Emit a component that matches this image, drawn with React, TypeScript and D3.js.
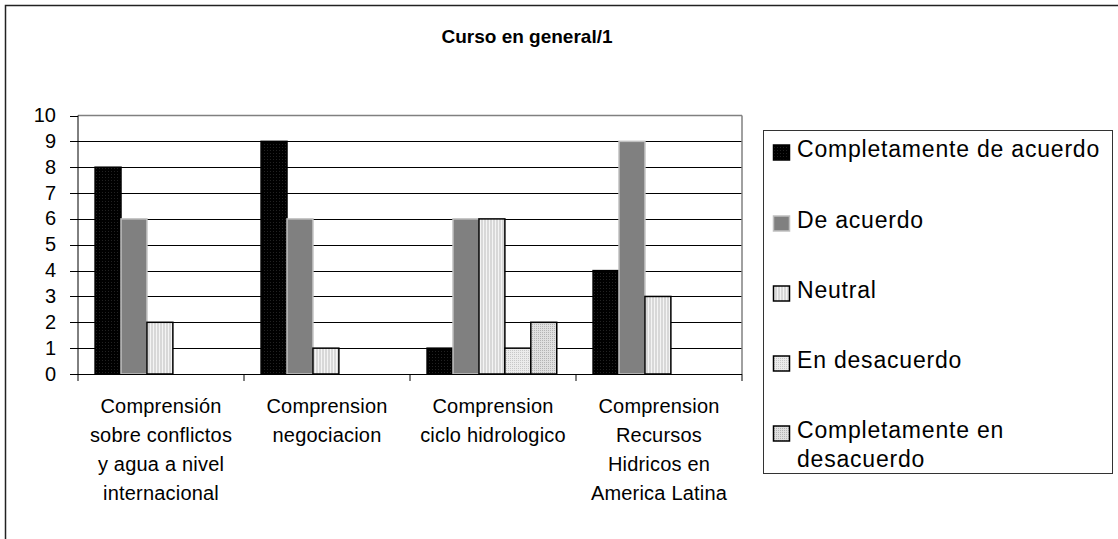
import React from "react";
import * as d3 from "d3";

const categories: string[][] = [
  ["Comprensión", "sobre conflictos", "y agua a nivel", "internacional"],
  ["Comprension", "negociacion"],
  ["Comprension", "ciclo hidrologico"],
  ["Comprension", "Recursos", "Hidricos en", "America Latina"],
];
const seriesNames: string[] = [
  "Completamente de acuerdo",
  "De acuerdo",
  "Neutral",
  "En desacuerdo",
  "Completamente en desacuerdo",
];
const completamenteDeAcuerdo = [8, 9, 1, 4];
const deAcuerdo = [6, 6, 6, 9];
const neutral = [2, 1, 6, 3];
const enDesacuerdo = [0, 0, 1, 0];
const completamenteEnDesacuerdo = [0, 0, 2, 0];
const yTicks = [0, 1, 2, 3, 4, 5, 6, 7, 8, 9, 10];
const title = "Curso en general/1";

const seriesValues = [completamenteDeAcuerdo, deAcuerdo, neutral, enDesacuerdo, completamenteEnDesacuerdo];
const fills = ["url(#pBlack)", "#808080", "url(#pStripe)", "url(#pDot1)", "url(#pDot2)"];
const strokes = ["#000", "#c0c0c0", "#000", "#000", "#000"];

const FONT = "Arial, 'Liberation Sans', sans-serif";

export default function App() {
  const left = 78, right = 742, top = 115.5, bottom = 374;
  const catKeys = categories.map((_, i) => String(i));
  const x0 = d3.scaleBand<string>().domain(catKeys).range([left, right]).padding(0);
  const x1 = d3
    .scaleBand<string>()
    .domain(seriesNames)
    .range([0, x0.bandwidth()])
    .paddingInner(0)
    .paddingOuter(0.7)
    .align(0.47);
  const y = d3.scaleLinear().domain([0, 10]).range([bottom, top]);

  const legendX = 763, legendY = 130, legendW = 349, legendH = 343;
  const legendBaselines = [157, 228, 298, 368, 438];

  return (
    <svg width={1118} height={539} style={{ position: "absolute", left: 0, top: 0, background: "#fff" }}>
      <defs>
        <pattern id="pBlack" width="3" height="3" patternUnits="userSpaceOnUse">
          <rect width="3" height="3" fill="#000" />
          <rect width="1" height="1" fill="#222" />
        </pattern>
        <pattern id="pStripe" width="3" height="3" patternUnits="userSpaceOnUse">
          <rect width="3" height="3" fill="#d8d8d8" />
          <rect width="1" height="3" fill="#f4f4f4" />
        </pattern>
        <pattern id="pDot1" width="2" height="2" patternUnits="userSpaceOnUse">
          <rect width="2" height="2" fill="#ececec" />
          <rect width="1" height="1" fill="#c8c8c8" />
        </pattern>
        <pattern id="pDot2" width="2" height="2" patternUnits="userSpaceOnUse">
          <rect width="2" height="2" fill="#e0e0e0" />
          <rect width="1" height="1" fill="#b4b4b4" />
        </pattern>
      </defs>
      <rect x={0} y={0} width={1118} height={539} fill="#fff" />
      <rect x={5.5} y={5.5} width={1200} height={600} fill="none" stroke="#222" strokeWidth={1.5} />

      <text x={527} y={43} textAnchor="middle" fontFamily={FONT} fontWeight="bold" fontSize={19}>
        {title}
      </text>

      {/* gridlines */}
      {yTicks.slice(1, -1).map((t) => (
        <line key={"g" + t} x1={left} x2={right} y1={Math.round(y(t)) + 0.5} y2={Math.round(y(t)) + 0.5} stroke="#000" strokeWidth={1} />
      ))}
      {/* plot border top & right */}
      <line x1={left} x2={right} y1={y(10)} y2={y(10)} stroke="#808080" strokeWidth={1.5} />
      <line x1={right} x2={right} y1={y(10)} y2={bottom} stroke="#808080" strokeWidth={1.5} />

      {/* bars */}
      {categories.map((_, ci) =>
        seriesNames.map((s, si) => {
          const v = seriesValues[si][ci];
          if (!v) return null;
          const bx = (x0(String(ci)) as number) + (x1(s) as number);
          return (
            <rect
              key={ci + "-" + si}
              x={bx}
              y={y(v)}
              width={x1.bandwidth()}
              height={y(0) - y(v)}
              fill={fills[si]}
              stroke={strokes[si]}
              strokeWidth={1.5}
            />
          );
        })
      )}

      {/* y axis */}
      <line x1={left} x2={left} y1={y(10)} y2={bottom + 1} stroke="#000" strokeWidth={1} />
      {yTicks.map((t) => (
        <g key={"yt" + t}>
          <line x1={70} x2={left} y1={Math.round(y(t)) + 0.5} y2={Math.round(y(t)) + 0.5} stroke="#000" />
          <text x={56} y={y(t) + 6.5} textAnchor="end" fontFamily={FONT} fontSize={20}>
            {t}
          </text>
        </g>
      ))}

      {/* x axis */}
      <line x1={left} x2={right} y1={bottom + 0.5} y2={bottom + 0.5} stroke="#000" strokeWidth={1.2} />
      {[...catKeys.map((k) => x0(k) as number), right].map((xv, i) => (
        <line key={"xt" + i} x1={xv} x2={xv} y1={bottom} y2={bottom + 7} stroke="#000" />
      ))}
      {categories.map((lines, ci) => (
        <text
          key={"cl" + ci}
          textAnchor="middle"
          fontFamily={FONT}
          fontSize={20}
          letterSpacing={0.2}
        >
          {lines.map((ln, li) => (
            <tspan key={li} x={(x0(String(ci)) as number) + x0.bandwidth() / 2} y={413 + li * 29}>
              {ln}
            </tspan>
          ))}
        </text>
      ))}

      {/* legend */}
      <rect x={legendX + 0.5} y={legendY + 0.5} width={legendW} height={legendH} fill="#fff" stroke="#333" strokeWidth={1} />
      {seriesNames.map((s, si) => {
        const by = legendBaselines[si];
        const words = si === 4 ? ["Completamente en", "desacuerdo"] : [s];
        return (
          <g key={"lg" + si}>
            <rect x={773.5} y={by - 12} width={16} height={15} fill={fills[si]} stroke={strokes[si]} strokeWidth={1.5} />
            <text fontFamily={FONT} fontSize={23} letterSpacing={0.8}>
              {words.map((w, wi) => (
                <tspan key={wi} x={797} y={by + wi * 29}>
                  {w}
                </tspan>
              ))}
            </text>
          </g>
        );
      })}
    </svg>
  );
}
